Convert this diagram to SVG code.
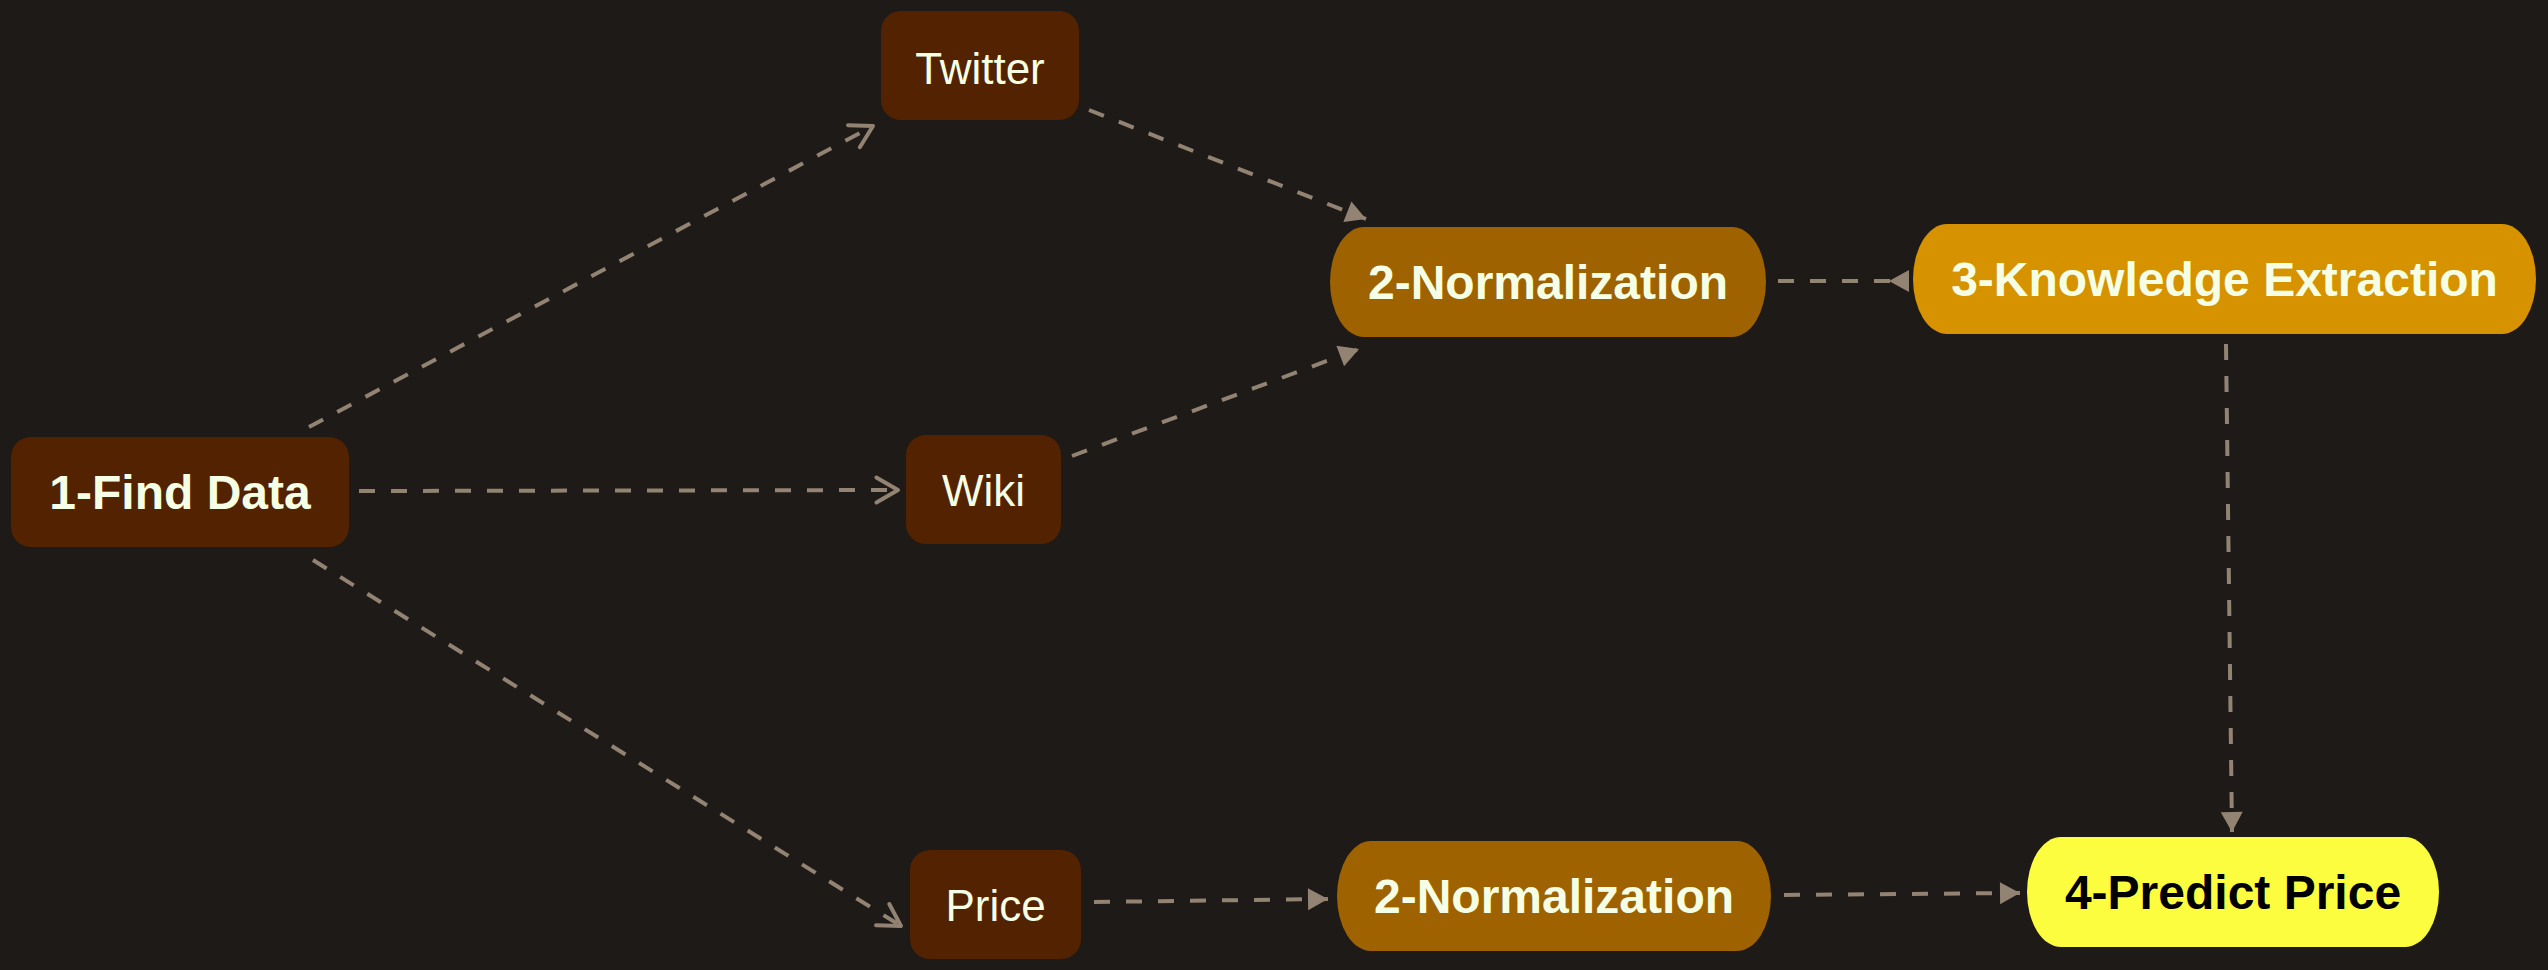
<svg xmlns="http://www.w3.org/2000/svg" width="2548" height="970" viewBox="0 0 2548 970">
<style>
.bg{fill:#1e1a17}
.src{fill:#532200}
.norm{fill:#9e6200}
.know{fill:#d79200}
.pred{fill:#fdfd3f}
.bold{font-family:"Liberation Sans",Arial,sans-serif;font-weight:bold;font-size:48px;text-anchor:middle;fill:#f5ffe5}
.light{font-family:"Liberation Sans",Arial,sans-serif;font-weight:normal;font-size:44px;text-anchor:middle;fill:#f5ffe5}
.dark{fill:#000000}
.edge{stroke:#928372;stroke-width:4;stroke-dasharray:16 16;fill:none}
</style>
<defs>
<marker id="open" markerUnits="userSpaceOnUse" markerWidth="40" markerHeight="40" viewBox="-30 -20 40 40" refX="0" refY="0" orient="auto">
<path d="M-21.6,-12.5 L0,0 L-21.6,12.5" fill="none" stroke="#928372" stroke-width="4" stroke-linecap="round" stroke-linejoin="round"/>
</marker>
<marker id="tri" markerUnits="userSpaceOnUse" markerWidth="40" markerHeight="40" viewBox="-30 -20 40 40" refX="0" refY="0" orient="auto">
<path d="M0,0 L-20,-11 L-20,11 Z" fill="#928372"/>
</marker>
<marker id="rev" markerUnits="userSpaceOnUse" markerWidth="40" markerHeight="40" viewBox="-30 -20 40 40" refX="0" refY="0" orient="auto">
<path d="M-20,0 L0,-11 L0,11 Z" fill="#928372"/>
</marker>
</defs>
<rect class="bg" x="0" y="0" width="2548" height="970"/>
<g id="connectors">
<line class="edge" x1="309" y1="427" x2="873" y2="126" marker-end="url(#open)"/>
<line class="edge" x1="359" y1="491" x2="898" y2="490" marker-end="url(#open)"/>
<line class="edge" x1="313" y1="560" x2="901" y2="926" marker-end="url(#open)"/>
<line class="edge" x1="1089" y1="110" x2="1366" y2="219" marker-end="url(#tri)"/>
<line class="edge" x1="1072" y1="456" x2="1359" y2="349" marker-end="url(#tri)"/>
<line class="edge" x1="1778" y1="281" x2="1909" y2="281" marker-end="url(#rev)"/>
<line class="edge" x1="2226" y1="344" x2="2232" y2="832" marker-end="url(#tri)"/>
<line class="edge" x1="1094" y1="902" x2="1328" y2="899" marker-end="url(#tri)"/>
<line class="edge" x1="1784" y1="895" x2="2020" y2="893" marker-end="url(#tri)"/>
</g>
<g id="find-data">
<rect class="src" x="11" y="437" width="338" height="110" rx="20" ry="20"/>
<text class="bold" x="180" y="509">1-Find Data</text>
</g>
<g id="twitter">
<rect class="src" x="881" y="11" width="198" height="109" rx="20" ry="20"/>
<text class="light" x="980" y="84">Twitter</text>
</g>
<g id="wiki">
<rect class="src" x="906" y="435" width="155" height="109" rx="20" ry="20"/>
<text class="light" x="983.5" y="506">Wiki</text>
</g>
<g id="price">
<rect class="src" x="910" y="850" width="171" height="109" rx="20" ry="20"/>
<text class="light" x="995.5" y="921">Price</text>
</g>
<g id="normalization-1">
<rect class="norm" x="1330" y="227" width="436" height="110" rx="34" ry="55"/>
<text class="bold" x="1548" y="299">2-Normalization</text>
</g>
<g id="knowledge-extraction">
<rect class="know" x="1913" y="224" width="623" height="110" rx="34" ry="55"/>
<text class="bold" x="2224.5" y="296">3-Knowledge Extraction</text>
</g>
<g id="normalization-2">
<rect class="norm" x="1337" y="841" width="434" height="110" rx="34" ry="55"/>
<text class="bold" x="1554" y="913">2-Normalization</text>
</g>
<g id="predict-price">
<rect class="pred" x="2027" y="837" width="412" height="110" rx="34" ry="55"/>
<text class="bold dark" x="2233" y="909">4-Predict Price</text>
</g>
</svg>
